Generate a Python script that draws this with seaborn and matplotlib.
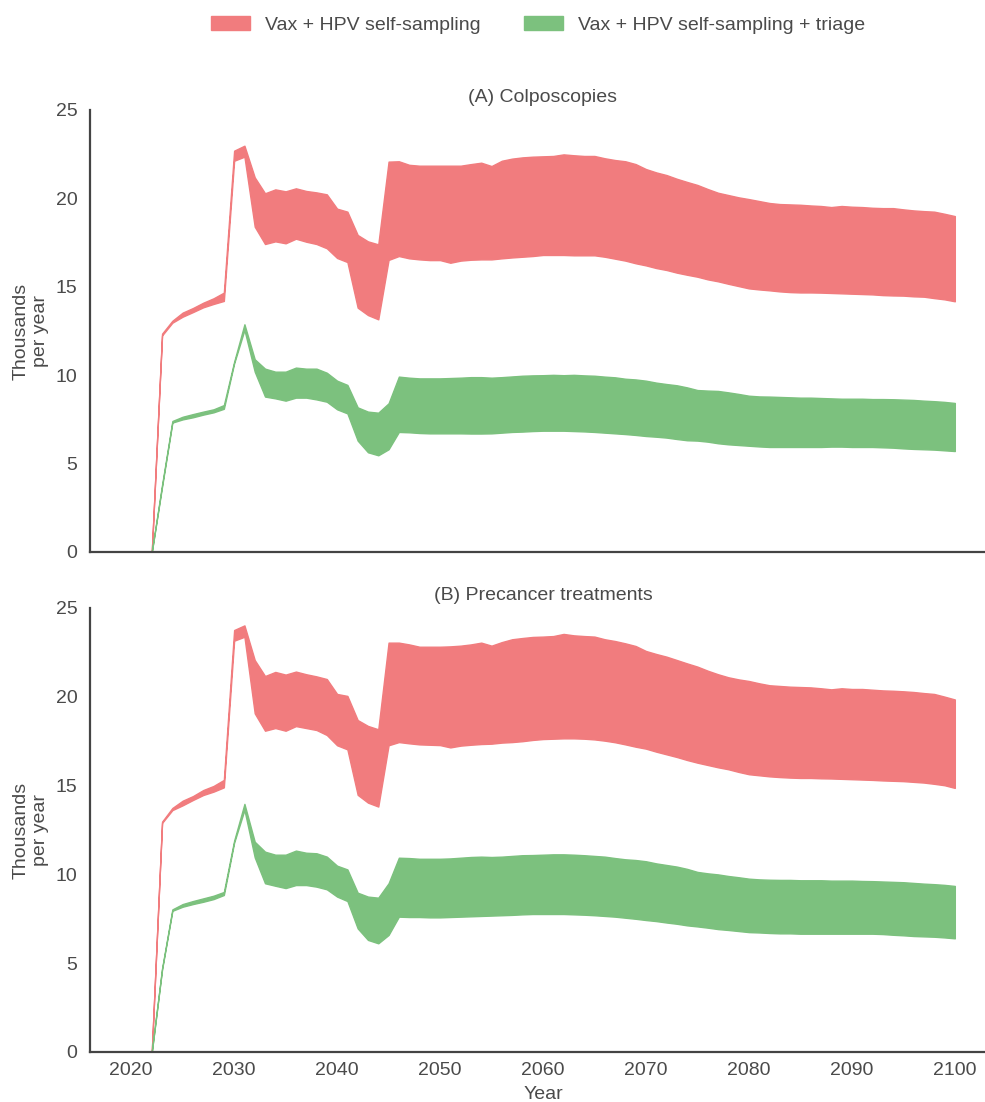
import numpy as np
import pandas as pd
import matplotlib
matplotlib.use("Agg")
import matplotlib.pyplot as plt
from matplotlib.patches import Patch
import seaborn as sns

years = list(range(2022, 2101))

strategies = ["Vax + HPV self-sampling", "Vax + HPV self-sampling + triage"]
colors = ["#F17C7E", "#7CC17E"]
panel_titles = ["(A) Colposcopies", "(B) Precancer treatments"]

# (A) Colposcopies, thousands per year: band upper / lower
colpo_self_hi = [0, 12.35, 13.08, 13.54, 13.8, 14.1, 14.35, 14.67, 22.7, 22.98,
                 21.19, 20.29, 20.51, 20.4, 20.57, 20.42, 20.34, 20.23, 19.42, 19.25,
                 17.93, 17.57, 17.4, 22.08, 22.1, 21.9, 21.85, 21.85, 21.85, 21.85,
                 21.85, 21.94, 22.02, 21.83, 22.13, 22.25, 22.32, 22.36, 22.38, 22.4,
                 22.49, 22.44, 22.4, 22.4, 22.27, 22.17, 22.1, 21.94, 21.66, 21.47,
                 21.32, 21.11, 20.93, 20.76, 20.53, 20.32, 20.19, 20.06, 19.96, 19.85,
                 19.74, 19.68, 19.66, 19.64, 19.6, 19.57, 19.51, 19.57, 19.53, 19.51,
                 19.47, 19.45, 19.45, 19.38, 19.32, 19.28, 19.25, 19.13, 19.0]
colpo_self_lo = [0, 12.25, 12.97, 13.31, 13.57, 13.84, 14.03, 14.2, 22.13, 22.36,
                 18.4, 17.42, 17.57, 17.46, 17.72, 17.55, 17.42, 17.18, 16.63, 16.4,
                 13.82, 13.4, 13.16, 16.52, 16.74, 16.61, 16.55, 16.51, 16.51, 16.36,
                 16.48, 16.53, 16.55, 16.55, 16.61, 16.66, 16.7, 16.74, 16.8, 16.8,
                 16.8, 16.78, 16.78, 16.78, 16.7, 16.59, 16.48, 16.33, 16.21, 16.06,
                 15.95, 15.8, 15.68, 15.57, 15.42, 15.31, 15.17, 15.04, 14.91, 14.85,
                 14.8, 14.74, 14.7, 14.68, 14.68, 14.67, 14.65, 14.63, 14.61, 14.59,
                 14.57, 14.53, 14.51, 14.5, 14.46, 14.44, 14.36, 14.29, 14.18]
colpo_triage_hi = [0, 3.8, 7.41, 7.65, 7.8, 7.94, 8.07, 8.31, 10.76, 12.88,
                   10.9, 10.37, 10.2, 10.2, 10.43, 10.37, 10.37, 10.14, 9.69, 9.45,
                   8.18, 7.94, 7.88, 8.41, 9.92, 9.86, 9.82, 9.82, 9.82, 9.84,
                   9.86, 9.89, 9.89, 9.86, 9.89, 9.93, 9.97, 9.99, 10.0, 10.02,
                   10.0, 10.02, 9.99, 9.97, 9.92, 9.88, 9.8, 9.76, 9.69, 9.58,
                   9.5, 9.43, 9.31, 9.16, 9.13, 9.11, 9.03, 8.94, 8.84, 8.8,
                   8.79, 8.77, 8.75, 8.73, 8.73, 8.71, 8.69, 8.67, 8.67, 8.67,
                   8.65, 8.65, 8.64, 8.62, 8.6, 8.56, 8.53, 8.49, 8.43]
colpo_triage_lo = [0, 3.7, 7.32, 7.5, 7.62, 7.77, 7.9, 8.1, 10.67, 12.56,
                   10.2, 8.79, 8.69, 8.56, 8.73, 8.73, 8.63, 8.5, 8.07, 7.84,
                   6.3, 5.64, 5.47, 5.81, 6.79, 6.77, 6.73, 6.71, 6.71, 6.71,
                   6.71, 6.7, 6.7, 6.71, 6.75, 6.79, 6.81, 6.84, 6.86, 6.86,
                   6.86, 6.84, 6.82, 6.79, 6.75, 6.71, 6.67, 6.62, 6.56, 6.52,
                   6.47, 6.39, 6.32, 6.3, 6.24, 6.15, 6.09, 6.05, 6.01, 5.97,
                   5.94, 5.94, 5.94, 5.94, 5.94, 5.94, 5.96, 5.96, 5.94, 5.94,
                   5.94, 5.92, 5.9, 5.86, 5.83, 5.81, 5.79, 5.75, 5.71]

# (B) Precancer treatments, thousands per year: band upper / lower
treat_self_hi = [0, 12.97, 13.74, 14.15, 14.41, 14.75, 14.98, 15.32, 23.76, 24.02,
                 22.07, 21.17, 21.4, 21.25, 21.42, 21.27, 21.15, 21.0, 20.16, 20.05,
                 18.69, 18.36, 18.17, 23.05, 23.05, 22.95, 22.82, 22.82, 22.82, 22.84,
                 22.88, 22.95, 23.05, 22.88, 23.08, 23.24, 23.31, 23.37, 23.39, 23.42,
                 23.54, 23.46, 23.42, 23.39, 23.24, 23.14, 23.01, 22.86, 22.58, 22.41,
                 22.26, 22.07, 21.88, 21.7, 21.47, 21.27, 21.1, 20.98, 20.89, 20.76,
                 20.65, 20.61, 20.57, 20.55, 20.53, 20.48, 20.42, 20.48, 20.44, 20.44,
                 20.4, 20.36, 20.34, 20.31, 20.27, 20.21, 20.16, 20.01, 19.85]
treat_self_lo = [0, 12.9, 13.62, 13.89, 14.19, 14.47, 14.66, 14.9, 23.16, 23.38,
                 19.07, 18.09, 18.24, 18.09, 18.35, 18.24, 18.13, 17.85, 17.27, 17.04,
                 14.48, 14.04, 13.82, 17.27, 17.45, 17.38, 17.32, 17.3, 17.28, 17.15,
                 17.25, 17.3, 17.34, 17.36, 17.42, 17.45, 17.5, 17.57, 17.62, 17.64,
                 17.66, 17.66, 17.64, 17.6, 17.53, 17.44, 17.32, 17.19, 17.08, 16.91,
                 16.76, 16.61, 16.44, 16.29, 16.16, 16.03, 15.92, 15.77, 15.64, 15.58,
                 15.52, 15.48, 15.45, 15.43, 15.43, 15.41, 15.4, 15.38, 15.36, 15.34,
                 15.32, 15.29, 15.27, 15.25, 15.21, 15.17, 15.1, 15.02, 14.87]
treat_triage_hi = [0, 4.71, 8.03, 8.33, 8.5, 8.65, 8.8, 9.01, 11.9, 13.97,
                   11.84, 11.28, 11.11, 11.11, 11.34, 11.22, 11.19, 11.0, 10.49, 10.28,
                   8.97, 8.75, 8.69, 9.5, 10.94, 10.92, 10.88, 10.88, 10.88, 10.9,
                   10.94, 10.98, 11.0, 10.98, 11.0, 11.04, 11.08, 11.09, 11.11, 11.13,
                   11.13, 11.11, 11.08, 11.04, 11.0, 10.92, 10.85, 10.81, 10.74, 10.62,
                   10.53, 10.44, 10.31, 10.14, 10.06, 10.0, 9.91, 9.84, 9.76, 9.72,
                   9.7, 9.69, 9.69, 9.67, 9.67, 9.67, 9.65, 9.65, 9.65, 9.63,
                   9.62, 9.6, 9.58, 9.56, 9.52, 9.48, 9.45, 9.41, 9.35]
treat_triage_lo = [0, 4.65, 7.95, 8.18, 8.33, 8.46, 8.61, 8.84, 11.79, 13.63,
                   10.96, 9.5, 9.36, 9.23, 9.4, 9.4, 9.31, 9.16, 8.75, 8.5,
                   6.96, 6.31, 6.12, 6.59, 7.62, 7.6, 7.6, 7.58, 7.58, 7.6,
                   7.62, 7.64, 7.66, 7.68, 7.7, 7.72, 7.75, 7.77, 7.77, 7.77,
                   7.77, 7.75, 7.73, 7.7, 7.66, 7.62, 7.56, 7.5, 7.43, 7.37,
                   7.29, 7.22, 7.13, 7.07, 7.0, 6.92, 6.87, 6.81, 6.75, 6.73,
                   6.7, 6.68, 6.68, 6.66, 6.66, 6.66, 6.66, 6.66, 6.66, 6.66,
                   6.66, 6.64, 6.6, 6.57, 6.53, 6.51, 6.49, 6.45, 6.4]

panels = [
    [(colpo_self_lo, colpo_self_hi), (colpo_triage_lo, colpo_triage_hi)],
    [(treat_self_lo, treat_self_hi), (treat_triage_lo, treat_triage_hi)],
]

# ---- style ----
sns.set_theme(style="white")
text_col = "#4a4a4a"
plt.rcParams["font.family"] = ["Liberation Sans", "DejaVu Sans"]
plt.rcParams.update({
    "text.color": text_col,
    "axes.labelcolor": text_col,
    "xtick.color": text_col,
    "ytick.color": text_col,
    "axes.edgecolor": "#444444",
    "font.size": 14,
})

fig = plt.figure(figsize=(9.85, 11.02), dpi=100)
W, H = 985.0, 1102.0
left = 90 / W
width = (996 - 90) / W
ax_top = fig.add_axes([left, 1 - 552 / H, width, (552 - 110) / H])
ax_bot = fig.add_axes([left, 1 - 1052 / H, width, (1052 - 608) / H])
axes = [ax_top, ax_bot]

for ax, bands, title in zip(axes, panels, panel_titles):
    for (lo, hi), name, col in zip(bands, strategies, colors):
        df = pd.DataFrame({
            "Year": years + years,
            "value": list(lo) + list(hi),
        })
        sns.lineplot(data=df, x="Year", y="value", ax=ax, color=col,
                     estimator="mean", errorbar=("pi", 100), linewidth=0,
                     err_kws={"alpha": 1.0, "facecolor": col, "edgecolor": col,
                              "linewidth": 1.0})
    ax.set_xlim(2016, 2104)
    ax.set_ylim(0, 25)
    ax.set_yticks([0, 5, 10, 15, 20, 25])
    ax.set_xticks(range(2020, 2101, 10))
    ax.set_title(title, fontsize=14, color=text_col, pad=6)
    ax.set_ylabel("Thousands\nper year", fontsize=14, labelpad=5)
    ax.tick_params(axis="both", labelsize=14, length=0)
    ax.tick_params(axis="y", pad=9)
    ax.tick_params(axis="x", pad=7)
    sns.despine(ax=ax)
    for sp in ["left", "bottom"]:
        ax.spines[sp].set_linewidth(1.6)
        ax.spines[sp].set_color("#444444")

ax_top.set_xlabel("")
ax_top.set_xticklabels([])
ax_bot.set_xlabel("Year", fontsize=14, labelpad=5)

handles = [Patch(facecolor=c, edgecolor=c) for c in colors]
fig.legend(handles, strategies, loc="center", bbox_to_anchor=(538 / W, 1 - 25 / H),
           ncol=2, frameon=False, fontsize=14, handlelength=2.0,
           handletextpad=0.8, columnspacing=2.2)

fig.savefig("out.png", dpi=100)
